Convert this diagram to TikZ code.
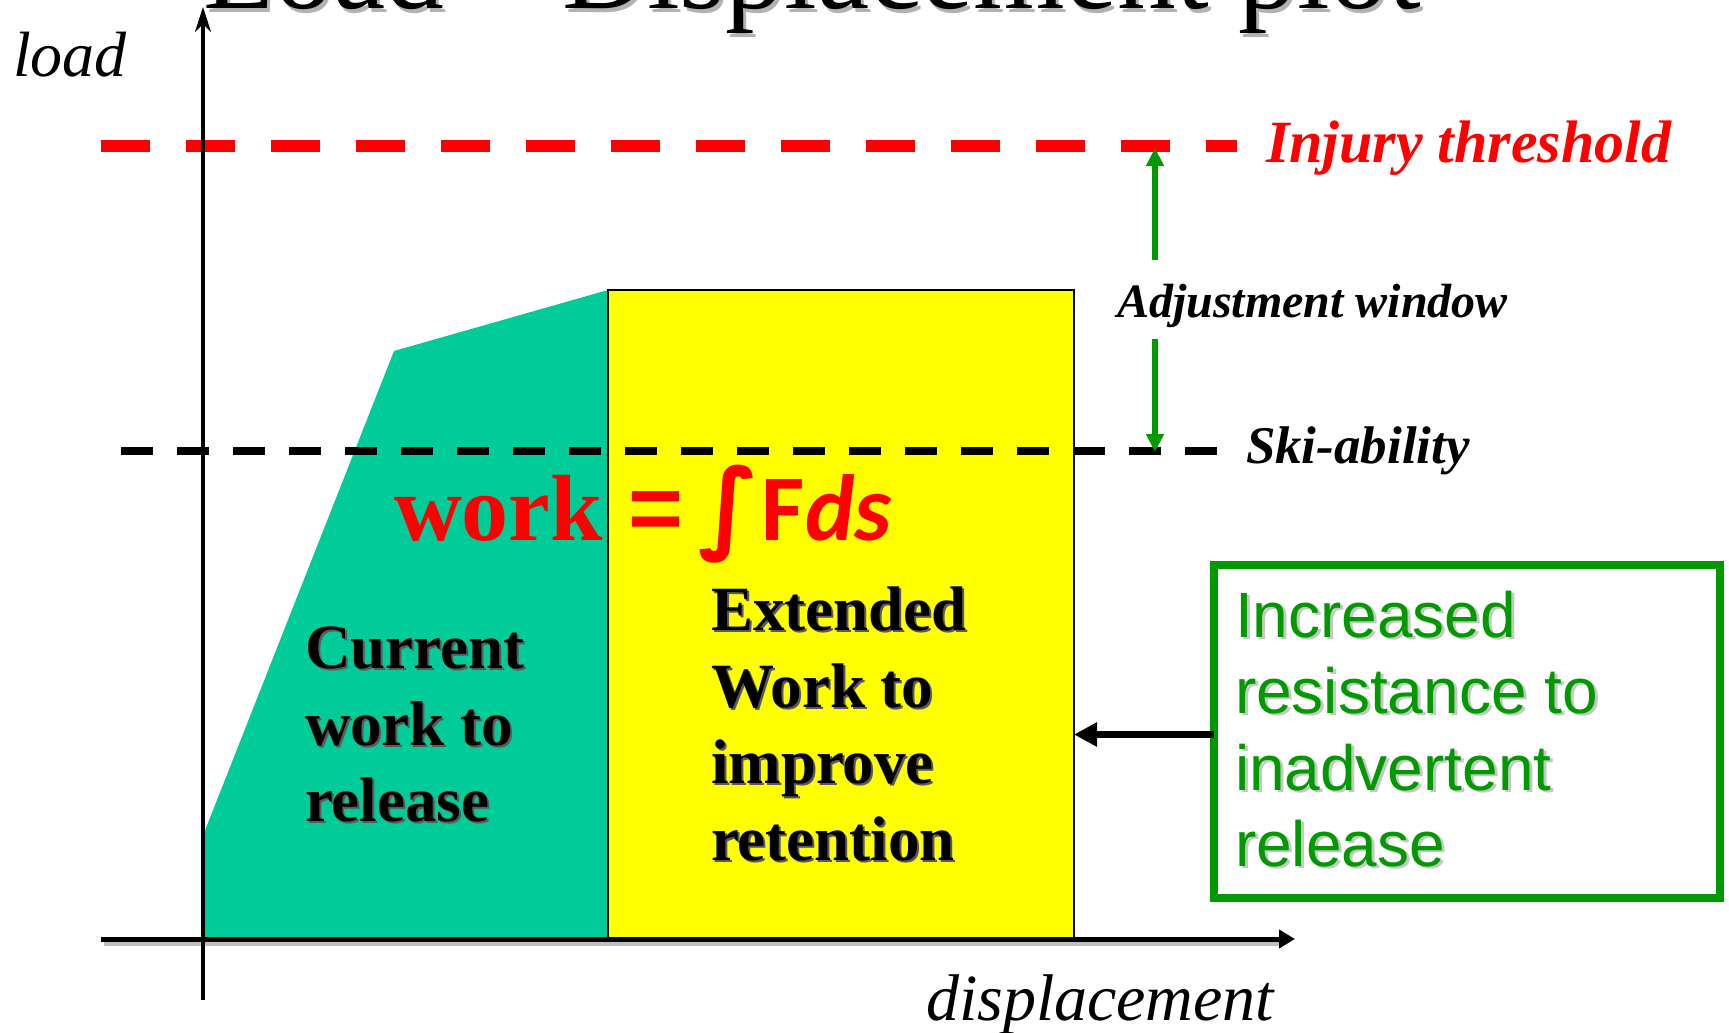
\documentclass[tikz,border=0pt]{standalone}
\usepackage{fontspec}
\setmainfont{Liberation Serif}
\newfontfamily\arialf{Liberation Sans}
\newfontfamily\calib{Carlito}
\newfontfamily\djv{DejaVu Sans}
\usetikzlibrary{arrows.meta}
\definecolor{tealfill}{RGB}{0,204,153}
\definecolor{boxgreen}{RGB}{0,153,0}
\definecolor{pureyellow}{RGB}{255,255,0}
\definecolor{shadowgray}{RGB}{90,90,90}
\begin{document}
\begin{tikzpicture}[x=0.5pt,y=-0.5pt,
  lbl/.style={inner sep=0pt, outer sep=0pt},
  bodytext/.style={lbl, anchor=north west, align=left, font=\bfseries\fontsize{31.5}{38.25}\selectfont},
  greentext/.style={lbl, anchor=north west, align=left, font=\arialf\fontsize{32}{38.25}\selectfont}]
\useasboundingbox (0,0) rectangle (1729,1033);
\clip (0,0) rectangle (1729,1033);

% title (cut off at the top)
\node[lbl, anchor=base west, text=gray!60, font=\fontsize{58.8}{60}\selectfont] at (206,12) {Load – Displacement plot};
\node[lbl, anchor=base west, font=\fontsize{58.8}{60}\selectfont] (title) at (203,9) {Load – Displacement plot};

% areas
\fill[tealfill] (204,833) -- (394,351) -- (608,290) -- (608,940) -- (204,940) -- cycle;
\node[lbl, draw=black, line width=0.75pt, fill=pureyellow, minimum width=233pt, minimum height=325pt, anchor=north west] (yel) at (608,290) {};

% threshold lines
\coordinate (inj-l) at (101,146);
\coordinate (inj-r) at (1237,146);
\coordinate (ski-l) at (121,451);
\coordinate (ski-r) at (1218,451);
\draw[red, line width=6pt, dash pattern=on 24.5pt off 18pt] (inj-l) -- (inj-r);
\draw[black, line width=4pt, dash pattern=on 16pt off 12pt] (ski-l) -- (ski-r);

% axes
\coordinate (x-l) at (101,939);
\coordinate (x-r) at (1295,939);
\coordinate (y-b) at (203,1000);
\coordinate (y-t) at (203,7);
\draw[gray!50, line width=2pt] (104,944) -- (1282,944);
\draw[line width=2.5pt, -{Triangle[length=8pt,width=9pt]}] (x-l) -- (x-r);
\draw[line width=2pt, -{Stealth[length=12.5pt,width=8pt]}] (y-b) -- (y-t);

% axis labels
\node[lbl, anchor=base west, font=\itshape\fontsize{32}{34}\selectfont] (load) at (13,76) {load};
\node[lbl, anchor=base west, font=\itshape\fontsize{33}{35}\selectfont] (disp) at (926,1020) {displacement};

% threshold labels
\node[lbl, anchor=base west, text=red, font=\bfseries\itshape\fontsize{30}{32}\selectfont] (inj) at (1266,162) {Injury threshold};
\node[lbl, anchor=base west, font=\bfseries\itshape\fontsize{26.5}{28}\selectfont] (ski) at (1246,463) {Ski-ability};
\node[lbl, anchor=base west, font=\bfseries\itshape\fontsize{24}{26}\selectfont] (adj) at (1117,317) {Adjustment window};

% adjustment window arrows
\coordinate (aw-a) at (1155,260);
\coordinate (aw-t) at (1155,148);
\coordinate (aw-b) at (1155,339);
\coordinate (aw-s) at (1155,452);
\draw[boxgreen, line width=3pt, -{Triangle[length=9pt,width=8.5pt]}] (aw-a) -- (aw-t);
\draw[boxgreen, line width=3pt, -{Triangle[length=9pt,width=8.5pt]}] (aw-b) -- (aw-s);

% formula
\node[lbl, anchor=base west, text=red, font=\bfseries\fontsize{47}{50}\selectfont] (work) at (394,540) {work};
\node[lbl, anchor=base west, text=red, font=\fontsize{47}{50}\selectfont] (formula) at (628,540)
  {{\arialf\bfseries =}\hspace{8pt}{\djv\bfseries\fontsize{50}{52}\selectfont ∫}\hspace{1pt}{\calib\bfseries F\textit{ds}}};

% region texts
\node[bodytext, text=shadowgray] at (307,629) {Current\\work to\\release};
\node[bodytext] (current) at (305,627) {Current\\work to\\release};
\node[bodytext, text=shadowgray] at (713,589) {Extended\\Work to\\improve\\retention};
\node[bodytext] (extended) at (711,587) {Extended\\Work to\\improve\\retention};

% green box
\node[lbl, draw=boxgreen, line width=4pt, minimum width=253pt, minimum height=166.5pt] (box) at (1467,731.5) {};
\node[greentext, text=gray!45] at (1238,593) {Increased\\resistance to\\inadvertent\\release};
\node[greentext, text=boxgreen] (incr) at (1235,591) {Increased\\resistance to\\inadvertent\\release};
\draw[line width=3.5pt, -{Triangle[length=11.5pt,width=11.5pt]}] ([yshift=-1.5pt]box.west) -- ([yshift=-1.5pt]box.west -| yel.east);
\end{tikzpicture}
\end{document}
